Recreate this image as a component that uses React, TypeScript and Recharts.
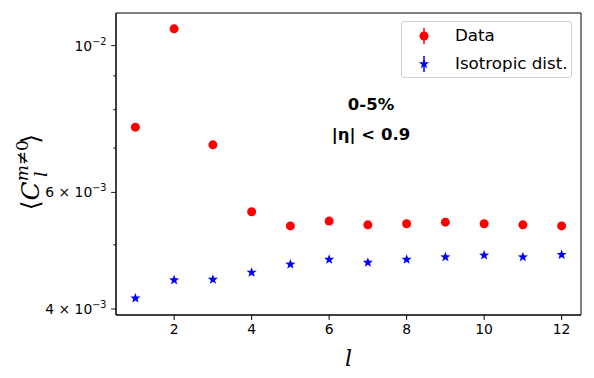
import React from 'react';
import { Legend, ReferenceArea, Scatter, ScatterChart, XAxis, YAxis } from 'recharts';

const ELLS = [1, 2, 3, 4, 5, 6, 7, 8, 9, 10, 11, 12];
const DATA_VALS = [0.00753, 0.0106, 0.00708, 0.00561, 0.00534, 0.00543, 0.00536, 0.00538, 0.00541, 0.00538, 0.00536, 0.00534];
const ISO_VALS = [0.00416, 0.00443, 0.00444, 0.00455, 0.00468, 0.00476, 0.00471, 0.00476, 0.0048, 0.00483, 0.0048, 0.00484];
const X_TICKS = [2, 4, 6, 8, 10, 12];
const Y_TICKS = [0.004, 0.005, 0.006, 0.007, 0.008, 0.009, 0.01];
const Y_LABELS: Record<string, [string, string]> = {
  '0.004': ['4 \u00d7 10', '\u22123'],
  '0.006': ['6 \u00d7 10', '\u22123'],
  '0.01': ['10', '\u22122'],
};

const dataPts = ELLS.map((l, i) => ({ l, v: DATA_VALS[i] }));
const isoPts = ELLS.map((l, i) => ({ l, v: ISO_VALS[i] }));

const FONT = '"DejaVu Sans", sans-serif';
const X_DOMAIN: [number, number] = [0.5, 12.5];
const Y_DOMAIN: [number, number] = [0.003917, 0.0112];

const starPath = (cx: number, cy: number, ro: number, ri: number) => {
  let d = '';
  for (let k = 0; k < 10; k++) {
    const r = k % 2 === 0 ? ro : ri;
    const a = -Math.PI / 2 + (k * Math.PI) / 5;
    d += (k === 0 ? 'M' : 'L') + (cx + r * Math.cos(a)).toFixed(2) + ',' + (cy + r * Math.sin(a)).toFixed(2);
  }
  return d + 'Z';
};

const Dot = (p: any) => <circle cx={p.cx} cy={p.cy} r={4.5} fill="#ff0000" />;
const Star = (p: any) => <path d={starPath(p.cx, p.cy + 0.5, 5.3, 2.2)} fill="#0000ff" />;

const YTick = (p: any) => {
  const { x, y, payload } = p;
  const lab = Y_LABELS[String(payload.value)];
  return (
    <g>
      <line x1={x} x2={x - (lab ? 4.9 : 2.8)} y1={y} y2={y} stroke="#000" strokeWidth={0.9} />
      {lab && (
        <text x={x - 9.5} y={y} dy="0.36em" textAnchor="end" fontFamily={FONT} fontSize={13.9} fill="#000">
          <tspan>{lab[0]}</tspan>
          <tspan dy={-6} fontSize={9.7}>{lab[1]}</tspan>
        </text>
      )}
    </g>
  );
};

const renderLegend = () => (
  <div
    style={{
      position: 'absolute',
      left: 401,
      top: 21,
      width: 171,
      height: 57,
      border: '1px solid #d0d0d0',
      borderRadius: 3,
      background: 'rgba(255,255,255,0.8)',
      fontFamily: FONT,
      fontSize: 16.7,
      color: '#000',
      boxSizing: 'border-box',
    }}
  >
    <svg width={40} height={57} style={{ position: 'absolute', left: 0, top: 0 }}>
      <line x1={22} x2={22} y1={6} y2={22} stroke="#ff0000" strokeWidth={1.5} />
      <circle cx={22} cy={14} r={4.5} fill="#ff0000" />
      <line x1={22} x2={22} y1={34} y2={50} stroke="#0000ff" strokeWidth={1.5} />
      <path d={starPath(22, 42, 5.3, 2.2)} fill="#0000ff" />
    </svg>
    <div style={{ position: 'absolute', left: 53, top: 3, lineHeight: '20px' }}>Data</div>
    <div style={{ position: 'absolute', left: 53, top: 31, lineHeight: '20px' }}>Isotropic dist.</div>
  </div>
);

export default function App() {
  return (
    <div style={{ position: 'absolute', left: 0, top: 0, width: 594, height: 378, background: '#fff' }}>
      <ScatterChart width={594} height={378} margin={{ top: 13, right: 13, bottom: 0, left: 0 }}>
        <XAxis
          dataKey="l"
          type="number"
          domain={X_DOMAIN}
          ticks={X_TICKS}
          allowDataOverflow
          height={63}
          tickSize={4.9}
          tickMargin={4}
          stroke="#000"
          tick={{ fill: '#000', fontSize: 13.9, fontFamily: FONT }}
          label={{
            value: 'l',
            position: 'insideBottom',
            offset: 12,
            style: { fontFamily: '"DejaVu Serif", serif', fontStyle: 'italic', fontSize: 22, fill: '#000' },
          }}
        />
        <YAxis
          dataKey="v"
          type="number"
          scale="log"
          domain={Y_DOMAIN}
          ticks={Y_TICKS}
          allowDataOverflow
          width={116}
          tickSize={0}
          tickMargin={0}
          tickLine={false}
          stroke="#000"
          tick={<YTick />}
          interval={0}
        />
        <ReferenceArea
          x1={X_DOMAIN[0]}
          x2={X_DOMAIN[1]}
          y1={Y_DOMAIN[0]}
          y2={Y_DOMAIN[1]}
          fill="none"
          fillOpacity={0}
          stroke="#000"
          strokeWidth={1}
          ifOverflow="visible"
        />
        <Legend content={renderLegend} wrapperStyle={{ position: 'absolute', left: 0, top: 0, width: 0, height: 0 }} />
        <Scatter name="Data" data={dataPts} shape={<Dot />} isAnimationActive={false} />
        <Scatter name="Isotropic dist." data={isoPts} shape={<Star />} isAnimationActive={false} />
      </ScatterChart>
      <div
        style={{
          position: 'absolute',
          left: 371,
          top: 90,
          transform: 'translateX(-50%)',
          fontFamily: FONT,
          fontWeight: 'bold',
          fontSize: 16.5,
          lineHeight: '30px',
          textAlign: 'center',
          whiteSpace: 'nowrap',
          color: '#000',
        }}
      >
        <div>0-5%</div>
        <div>|η| &lt; 0.9</div>
      </div>
      <svg width={60} height={378} style={{ position: 'absolute', left: 0, top: 0 }}>
        <text
          transform="translate(39,172) rotate(-90)"
          textAnchor="middle"
          fontFamily='"DejaVu Serif", serif'
          fontSize={25}
          fill="#000"
        >
          <tspan>⟨</tspan>
          <tspan fontStyle="italic">C</tspan>
          <tspan fontStyle="italic" fontSize={17} dy={-11}>m</tspan>
          <tspan fontSize={17}>≠0</tspan>
          <tspan fontStyle="italic" fontSize={17} dx={-37} dy={19}>l</tspan>
          <tspan dx={28} dy={-8}>⟩</tspan>
        </text>
      </svg>
    </div>
  );
}
